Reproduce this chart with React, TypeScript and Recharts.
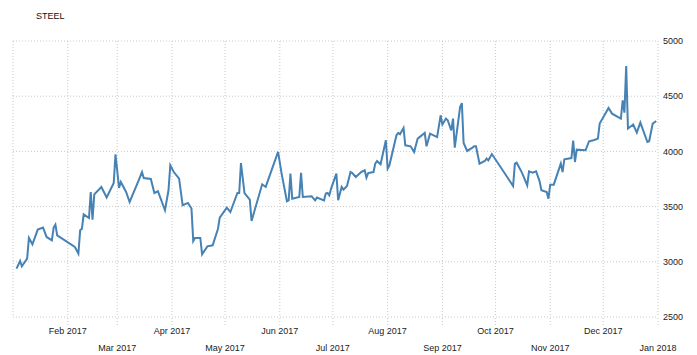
import React from "react";
import { LineChart, Line, XAxis, YAxis, CartesianGrid } from "recharts";

// Days since 2017-01-01
const days = [
  2, 4, 5, 8, 9, 11, 14, 17, 19, 22, 23, 24, 25, 35, 37, 38, 39, 40, 43, 44,
  45, 46, 50, 53, 57, 58, 60, 61, 64, 66, 71, 73, 74, 78, 80, 82, 86, 88, 89, 91,
  94, 96, 99, 101, 102, 103, 106, 107, 110, 113, 116, 117, 121, 123, 127, 128, 129, 131, 134, 135,
  141, 143, 150, 152, 155, 156, 157, 158, 162, 163, 164, 169, 171, 172, 176, 177, 178, 179, 180, 183,
  184, 186, 187, 189, 191, 192, 194, 197, 199, 200, 201, 204, 205, 206, 208, 211, 212, 213, 217, 218,
  219, 221, 222, 225, 227, 229, 233, 234, 236, 240, 242, 243, 245, 246, 248, 249, 250, 253, 254, 255,
  257, 260, 261, 262, 264, 267, 268, 269, 271, 283, 284, 285, 288, 291, 292, 294, 296, 298, 299, 302,
  303, 304, 306, 310, 311, 312, 316, 317, 318, 319, 324, 326, 329, 331, 332, 337, 339, 344, 345, 346,
  347, 348, 351, 353, 355, 359, 360, 362, 364,
];

const steel = [
  2938, 3007, 2959, 3029, 3216, 3158, 3292, 3310, 3225, 3195, 3310, 3337, 3240, 3134, 3074, 3285, 3300, 3430, 3397, 3632,
  3382, 3611, 3678, 3582, 3714, 3974, 3669, 3723, 3632, 3542, 3732, 3813, 3759, 3750, 3623, 3639, 3467, 3648, 3874, 3813,
  3754, 3512, 3533, 3482, 3188, 3216, 3216, 3068, 3140, 3149, 3300, 3400, 3491, 3451, 3623, 3623, 3895, 3623, 3563, 3370,
  3702, 3678, 3995, 3799, 3548, 3557, 3799, 3572, 3587, 3805, 3587, 3593, 3557, 3582, 3557, 3618, 3623, 3602, 3663, 3799,
  3557, 3678, 3654, 3687, 3813, 3804, 3768, 3813, 3829, 3763, 3804, 3813, 3889, 3913, 3883, 4101, 3844, 3874, 4146, 4167,
  4155, 4212, 4055, 4046, 3995, 4116, 4167, 4046, 4161, 4130, 4327, 4243, 4297, 4282, 4191, 4297, 4034, 4402, 4438, 4076,
  4004, 4034, 4046, 4046, 3889, 3913, 3935, 3919, 3976, 3687, 3889, 3898, 3808, 3693, 3820, 3808, 3820, 3729, 3648, 3632,
  3572, 3699, 3699, 3889, 3813, 3929, 3940, 4098, 3904, 4016, 4010, 4092, 4103, 4116, 4252, 4393, 4342, 4297, 4463, 4351,
  4774, 4207, 4243, 4170, 4261, 4085, 4092, 4252, 4275,
];

const monthTickDays = [31, 59, 90, 120, 151, 181, 212, 243, 273, 304, 334, 365];
const monthTickLabels = [
  "Feb 2017", "Mar 2017", "Apr 2017", "May 2017", "Jun 2017", "Jul 2017",
  "Aug 2017", "Sep 2017", "Oct 2017", "Nov 2017", "Dec 2017", "Jan 2018",
];
const yTicks = [2500, 3000, 3500, 4000, 4500, 5000];
const title = "STEEL";

const data = days.map((d, i) => ({ day: d, value: steel[i] }));

const FONT = "'Liberation Sans', Arial, sans-serif";
const GRID = "#c8c8c8";

const MonthTick = (props: any) => {
  const { x, y, payload } = props;
  const idx = monthTickDays.indexOf(payload.value);
  const label = idx >= 0 ? monthTickLabels[idx] : "";
  const ty = idx % 2 === 0 ? y + 9 : y + 26;
  return (
    <text x={x} y={ty} textAnchor="middle" fontSize={9} fontFamily={FONT} fill="#222">
      {label}
    </text>
  );
};

export default function App() {
  return (
    <div style={{ position: "absolute", left: 0, top: 0, width: 697, height: 355, background: "#fff" }}>
      <LineChart
        width={697}
        height={355}
        data={data}
        margin={{ top: 41, right: 0, left: 13, bottom: 0 }}
      >
        <CartesianGrid stroke={GRID} strokeDasharray="1 2" />
        <XAxis
          dataKey="day"
          type="number"
          domain={[0, 365]}
          ticks={monthTickDays}
          interval={0}
          height={38}
          axisLine={false}
          tickLine={{ stroke: GRID, strokeDasharray: "1 2" }}
          tickSize={8}
          tickMargin={0}
          tick={<MonthTick />}
          allowDataOverflow
        />
        <YAxis
          orientation="right"
          width={39}
          domain={[2500, 5000]}
          ticks={yTicks}
          interval={0}
          axisLine={false}
          tickLine={false}
          tickSize={3}
          tickMargin={2}
          tick={{ fontSize: 9, fontFamily: FONT, fill: "#222" }}
        />
        <Line
          type="linear"
          dataKey="value"
          stroke="#4682b4"
          strokeWidth={2}
          dot={false}
          isAnimationActive={false}
        />
      </LineChart>
      <svg width={200} height={30} style={{ position: "absolute", left: 0, top: 0 }}>
        <text x={36} y={19} fontSize={9} fontFamily={FONT} fill="#111">
          {title}
        </text>
      </svg>
    </div>
  );
}
